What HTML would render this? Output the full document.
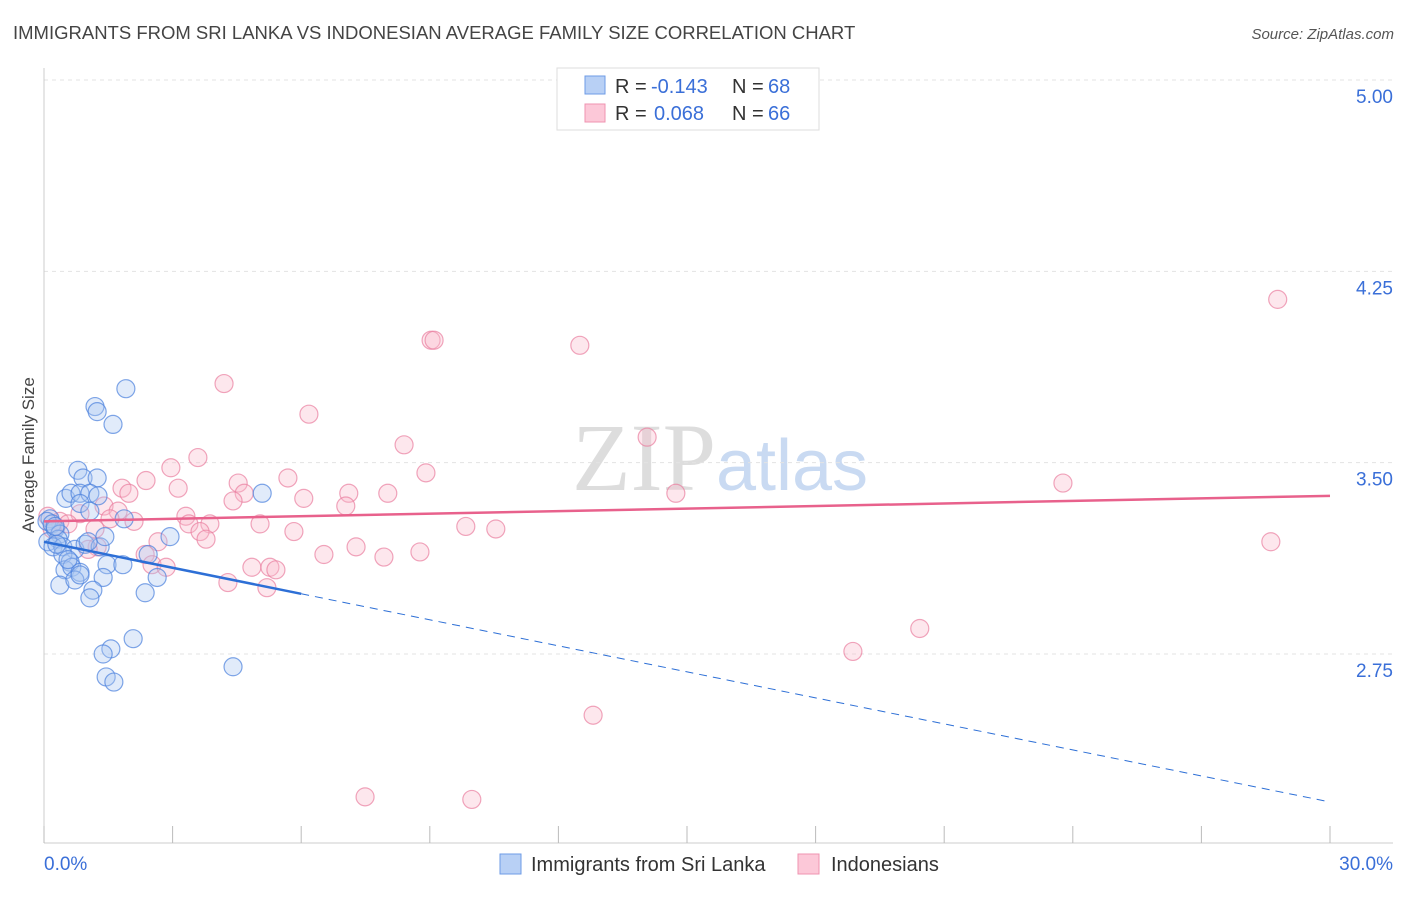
<!DOCTYPE html>
<html><head><meta charset="utf-8"><style>
body{margin:0;background:#fff;font-family:"Liberation Sans",sans-serif}
</style></head><body>
<svg id="chart" width="1406" height="892" xmlns="http://www.w3.org/2000/svg" style="font-family:'Liberation Sans',sans-serif">
<text x="13" y="39" font-size="18.5" fill="#444">IMMIGRANTS FROM SRI LANKA VS INDONESIAN AVERAGE FAMILY SIZE CORRELATION CHART</text>
<text x="1394" y="39" font-size="15" fill="#555" font-style="italic" text-anchor="end">Source: ZipAtlas.com</text>
<text x="720" y="490" font-size="96" text-anchor="middle" fill="#ddd" font-family="'Liberation Serif',serif">ZIP<tspan fill="#c9daf2" font-family="'Liberation Sans',sans-serif" font-size="72">atlas</tspan></text>
<text transform="translate(34,455) rotate(-90)" font-size="17" fill="#444" text-anchor="middle">Average Family Size</text>
<g id="grid"></g>
<g id="marks"></g>
<g>
<rect x="557" y="68" width="262" height="62" fill="#fff" stroke="#ddd"/>
<rect x="585" y="76" width="20" height="18" fill="#b8d0f5" stroke="#6e9be6"/>
<rect x="585" y="104" width="20" height="18" fill="#fcc8d8" stroke="#ef93b0"/>
<text x="615" y="93" font-size="20" fill="#333">R =</text>
<text x="651" y="93" font-size="20" fill="#3a6fd8">-0.143</text>
<text x="732" y="93" font-size="20" fill="#333">N =</text>
<text x="768" y="93" font-size="20" fill="#3a6fd8">68</text>
<text x="615" y="120" font-size="20" fill="#333">R =</text>
<text x="654" y="120" font-size="20" fill="#3a6fd8">0.068</text>
<text x="732" y="120" font-size="20" fill="#333">N =</text>
<text x="768" y="120" font-size="20" fill="#3a6fd8">66</text>
</g>
<g>
<rect x="500" y="854" width="21" height="20" fill="#b8d0f5" stroke="#6e9be6"/>
<text x="531" y="871" font-size="20" fill="#333">Immigrants from Sri Lanka</text>
<rect x="798" y="854" width="21" height="20" fill="#fcc8d8" stroke="#ef93b0"/>
<text x="831" y="871" font-size="20" fill="#333">Indonesians</text>
</g>
</svg>
<script>
const yTicks=[5.00,4.25,3.50,2.75];
const yTickLabels=["5.00","4.25","3.50","2.75"];
const xTickCount=11;
const blueX=[1.91,1.19,1.24,1.61,0.79,0.91,1.24,0.51,0.63,0.84,1.07,1.26,5.09,0.84,1.07,1.87,0.14,0.07,0.19,0.26,0.37,0.33,0.09,0.21,0.44,0.72,0.96,1.31,1.42,1.03,2.94,2.43,0.44,0.61,0.49,0.65,0.84,1.47,1.84,0.37,0.72,1.38,1.14,1.07,2.36,2.64,2.08,1.56,1.38,4.41,1.45,1.63,0.26,0.30,0.56,0.84];
const blueY=[3.79,3.72,3.70,3.65,3.47,3.44,3.44,3.36,3.38,3.38,3.38,3.37,3.38,3.34,3.31,3.28,3.28,3.27,3.26,3.24,3.22,3.20,3.19,3.17,3.17,3.16,3.18,3.17,3.21,3.19,3.21,3.14,3.14,3.11,3.08,3.09,3.07,3.10,3.10,3.02,3.04,3.05,3.00,2.97,2.99,3.05,2.81,2.77,2.75,2.70,2.66,2.64,3.25,3.18,3.12,3.06];
const pinkX=[28.78,9.03,9.10,12.50,4.20,6.18,14.07,8.40,3.59,2.96,8.91,2.38,4.53,5.69,23.77,3.13,1.82,1.98,4.67,8.02,7.11,6.06,4.41,14.74,7.04,1.40,0.84,1.73,3.31,1.54,2.10,0.37,0.56,3.38,3.87,5.04,9.84,10.54,1.19,0.09,0.19,3.64,5.83,3.78,2.66,1.24,7.28,8.77,6.53,7.93,28.62,2.36,2.52,2.85,4.85,5.27,5.41,4.29,5.20,20.43,18.87,12.81,7.49,9.98,1.03];
const pinkY=[4.14,3.98,3.98,3.96,3.81,3.69,3.60,3.57,3.52,3.48,3.46,3.43,3.42,3.44,3.42,3.40,3.40,3.38,3.38,3.38,3.38,3.36,3.35,3.38,3.33,3.33,3.30,3.31,3.29,3.28,3.27,3.27,3.26,3.26,3.26,3.26,3.25,3.24,3.24,3.29,3.24,3.23,3.23,3.20,3.19,3.17,3.17,3.15,3.14,3.13,3.19,3.14,3.10,3.09,3.09,3.09,3.08,3.03,3.01,2.85,2.76,2.51,2.19,2.18,3.16];
const blueTrend=[3.19,2.17];
const pinkTrend=[3.27,3.37];
const X0=44,X1=1330,YT=80,YB=654;
function sx(v){return X0+(X1-X0)*v/30;}
function sy(v){return YT+(YB-YT)*(5-v)/2.25;}
const NS="http://www.w3.org/2000/svg";
function mk(t,a,p){const e=document.createElementNS(NS,t);for(const k in a)e.setAttribute(k,a[k]);p.appendChild(e);return e;}
const g=document.getElementById('grid'),m=document.getElementById('marks');
yTicks.forEach((v,i)=>{
 const l=mk('line',{x1:44,x2:1393,y1:sy(v),y2:sy(v),stroke:'#e3e3e3','stroke-dasharray':'4,4'},g);
 
 
 const t=mk('text',{x:1393,y:sy(v)+23,'font-size':19,fill:'#3a6fd8','text-anchor':'end'},g);
 t.textContent=yTickLabels[i];
 
 
});
const ax=mk('line',{x1:44,x2:44,y1:68,y2:843,stroke:'#ccc'},g);


const bx=mk('line',{x1:44,x2:1393,y1:843,y2:843,stroke:'#ccc'},g);


for(let i=0;i<xTickCount;i++){const x=sx(i*3);const tk=mk('line',{x1:x,x2:x,y1:826,y2:843,stroke:'#bbb'},g);
 
 }
const xl=mk('text',{x:44,y:870,'font-size':19,fill:'#3a6fd8'},g);xl.textContent='0.0%';


const xr=mk('text',{x:1393,y:870,'font-size':19,fill:'#3a6fd8','text-anchor':'end'},g);xr.textContent='30.0%';


function pts(X,Y,fill,stroke,name){X.forEach((x,i)=>{const c=mk('circle',{cx:sx(x),cy:sy(Y[i]),r:9,fill:fill,'fill-opacity':0.35,stroke:stroke,'stroke-opacity':0.7,'stroke-width':1.2},m);
 
 });}
pts(pinkX,pinkY,'#f9b9cc','#ea7fa0','indonesian-point');
pts(blueX,blueY,'#a9c6f2','#4a80dd','sri-lanka-point');
const bs=blueTrend[0]+(blueTrend[1]-blueTrend[0])*6/30;
const l1=mk('line',{x1:sx(0),y1:sy(blueTrend[0]),x2:sx(6),y2:sy(bs),stroke:'#2d6fd6','stroke-width':2.5},m);


const l2=mk('line',{x1:sx(6),y1:sy(bs),x2:sx(30),y2:sy(blueTrend[1]),stroke:'#2d6fd6','stroke-width':1,'stroke-dasharray':'8,6'},m);


const l3=mk('line',{x1:sx(0),y1:sy(pinkTrend[0]),x2:sx(30),y2:sy(pinkTrend[1]),stroke:'#e8618c','stroke-width':2.5},m);


</script>
</body></html>
